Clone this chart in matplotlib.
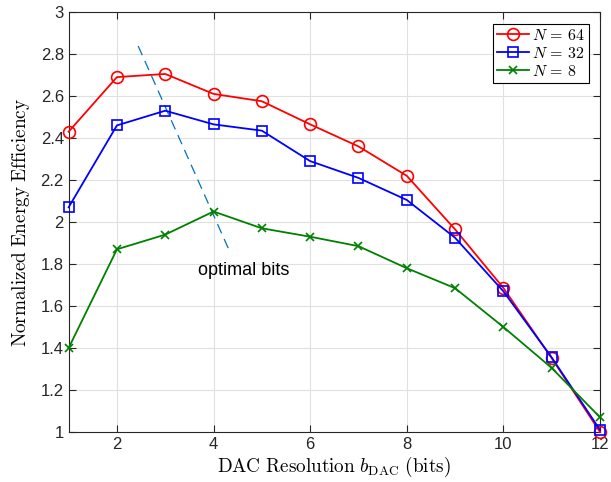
import matplotlib
matplotlib.use("Agg")
import matplotlib.pyplot as plt

plt.rcParams["mathtext.fontset"] = "cm"
plt.rcParams["font.family"] = ["Liberation Sans", "DejaVu Sans"]

bits = [1, 2, 3, 4, 5, 6, 7, 8, 9, 10, 11, 12]
ee_n64 = [2.43, 2.69, 2.705, 2.61, 2.575, 2.465, 2.36, 2.22, 1.965, 1.686, 1.352, 1.0]
ee_n32 = [2.07, 2.46, 2.53, 2.465, 2.435, 2.29, 2.21, 2.105, 1.925, 1.67, 1.355, 1.01]
ee_n8 = [1.40, 1.87, 1.94, 2.05, 1.97, 1.93, 1.885, 1.78, 1.685, 1.50, 1.305, 1.07]

optimal_x = [2.44, 4.34]
optimal_y = [2.838, 1.857]

fig = plt.figure(figsize=(6.11, 4.82), dpi=100)
ax = fig.add_axes([0.1123, 0.1037, 0.8697, 0.8714])

ax.plot(bits, ee_n64, color="red", marker="o", markersize=8.5, markerfacecolor="none",
        markeredgewidth=1.2, linewidth=1.3, label=r"$N\,=\,64$", clip_on=False, zorder=3)
ax.plot(bits, ee_n32, color="blue", marker="s", markersize=7, markerfacecolor="none",
        markeredgewidth=1.2, linewidth=1.3, label=r"$N\,=\,32$", clip_on=False, zorder=3)
ax.plot(bits, ee_n8, color="green", marker="x", markersize=6, markeredgewidth=1.2,
        linewidth=1.3, label=r"$N\,=\,8$", clip_on=False, zorder=3)

ax.plot(optimal_x, optimal_y, color=(0, 0.447, 0.741), linestyle=(0, (8, 5)), linewidth=0.9)
ax.text(3.68, 1.77, "optimal bits", fontsize=13, va="center", ha="left")

ax.set_xlim(1, 12)
ax.set_ylim(1, 3)
ax.set_xticks([2, 4, 6, 8, 10, 12])
ax.set_yticks([1, 1.2, 1.4, 1.6, 1.8, 2, 2.2, 2.4, 2.6, 2.8, 3])
ax.set_yticklabels(["1", "1.2", "1.4", "1.6", "1.8", "2", "2.2", "2.4", "2.6", "2.8", "3"])
ax.tick_params(direction="in", top=True, right=True, labelsize=12, length=5, width=0.8,
               colors="#262626")
ax.grid(True, color="#e0e0e0", linewidth=0.8)
for s in ax.spines.values():
    s.set_color("#262626")
    s.set_linewidth(0.8)

ax.set_xlabel(r"$\mathrm{DAC\ Resolution}\ b_{\mathrm{DAC}}\ \mathrm{(bits)}$", fontsize=13.8, labelpad=2)
ax.set_ylabel(r"$\mathrm{Normalized\ Energy\ Efficiency}$", fontsize=13.8, labelpad=6)

leg = ax.legend(loc="upper right", fontsize=11.5, fancybox=False, edgecolor="black",
                framealpha=1, handlelength=2.0, borderpad=0.25, labelspacing=0.2,
                handletextpad=0.2, borderaxespad=0.2, bbox_to_anchor=(0.985, 0.98))
leg.get_frame().set_linewidth(0.8)

fig.savefig("out.png", dpi=100)
